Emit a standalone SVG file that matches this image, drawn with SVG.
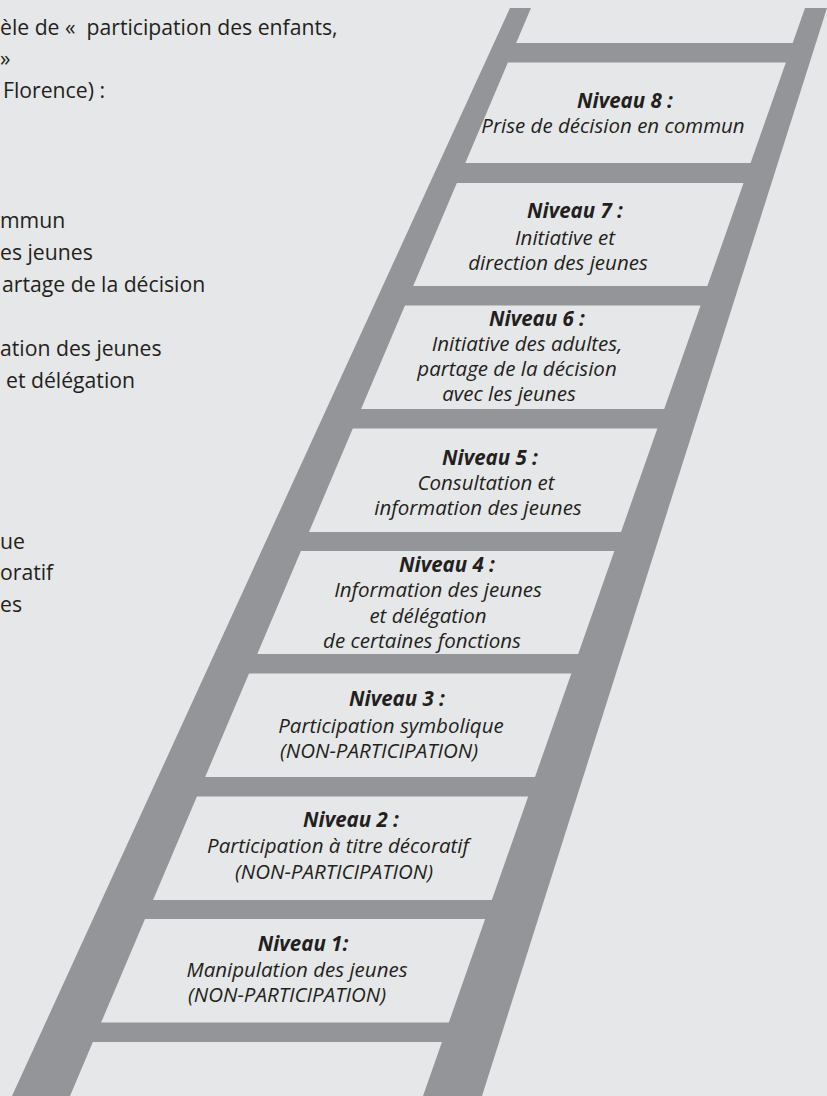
<svg xmlns="http://www.w3.org/2000/svg" width="827" height="1096" viewBox="0 0 827 1096">
<style>
.bg{fill:#e6e7e8}
.wood{fill:#939598}
.intro{font-family:"Open Sans","Noto Sans","Liberation Sans",sans-serif;font-size:21.2px;fill:#231f20}
.lvl{font-family:"Open Sans","Noto Sans","Liberation Sans",sans-serif;font-size:20.5px;font-style:italic;fill:#231f20;text-anchor:middle}
.lvl .t{font-weight:bold}
</style>
<rect class="bg" x="0" y="0" width="827" height="1096"/>
<g id="intro-text" class="intro">
<text x="0" y="35">èle de «&#160; participation des enfants,</text>
<text x="0" y="66">»</text>
<text x="3" y="98">Florence) :</text>
<text x="0" y="228">mmun</text>
<text x="0" y="260">es jeunes</text>
<text x="2" y="292">artage de la décision</text>
<text x="0" y="356">ation des jeunes</text>
<text x="6" y="388">et délégation</text>
<text x="0" y="549">ue</text>
<text x="0" y="580">oratif</text>
<text x="0" y="612">es</text>
</g>
<g id="ladder">
<polygon class="wood" points="510,8 531,8 70,1096 12,1096"/>
<polygon class="wood" points="805,8 827,8 482,1096 423,1096"/>
<rect class="wood" x="505" y="43" width="291" height="19.5"/>
<rect class="wood" x="454" y="163" width="300" height="20"/>
<rect class="wood" x="402" y="286" width="308" height="19.5"/>
<rect class="wood" x="350" y="409" width="317" height="19.5"/>
<rect class="wood" x="298" y="532" width="326" height="19"/>
<rect class="wood" x="246" y="654" width="335" height="19.5"/>
<rect class="wood" x="194" y="777" width="344" height="19.5"/>
<rect class="wood" x="142" y="900" width="353" height="19"/>
<rect class="wood" x="90" y="1022.5" width="362" height="19.5"/>
</g>
<g id="connectors"></g>
<g id="level-8" class="lvl">
<text class="t" x="625" y="108">Niveau 8 :</text>
<text x="613" y="133">Prise de décision en commun</text>
</g>
<g id="level-7" class="lvl">
<text class="t" x="575" y="218">Niveau 7 :</text>
<text x="565" y="245">Initiative et</text>
<text x="558" y="270">direction des jeunes</text>
</g>
<g id="level-6" class="lvl">
<text class="t" x="537" y="326">Niveau 6 :</text>
<text x="527" y="351">Initiative des adultes,</text>
<text x="517" y="376">partage de la décision</text>
<text x="509" y="401">avec les jeunes</text>
</g>
<g id="level-5" class="lvl">
<text class="t" x="490" y="465">Niveau 5 :</text>
<text x="486" y="490">Consultation et</text>
<text x="478" y="515">information des jeunes</text>
</g>
<g id="level-4" class="lvl">
<text class="t" x="447" y="572">Niveau 4 :</text>
<text x="438" y="597">Information des jeunes</text>
<text x="428" y="623">et délégation</text>
<text x="422" y="648">de certaines fonctions</text>
</g>
<g id="level-3" class="lvl">
<text class="t" x="397" y="706">Niveau 3 :</text>
<text x="391" y="733">Participation symbolique</text>
<text x="379" y="758">(NON-PARTICIPATION)</text>
</g>
<g id="level-2" class="lvl">
<text class="t" x="351" y="827">Niveau 2 :</text>
<text x="338" y="853">Participation à titre décoratif</text>
<text x="334" y="879">(NON-PARTICIPATION)</text>
</g>
<g id="level-1" class="lvl">
<text class="t" x="303" y="951">Niveau 1:</text>
<text x="297" y="977">Manipulation des jeunes</text>
<text x="287" y="1002">(NON-PARTICIPATION)</text>
</g>
</svg>
